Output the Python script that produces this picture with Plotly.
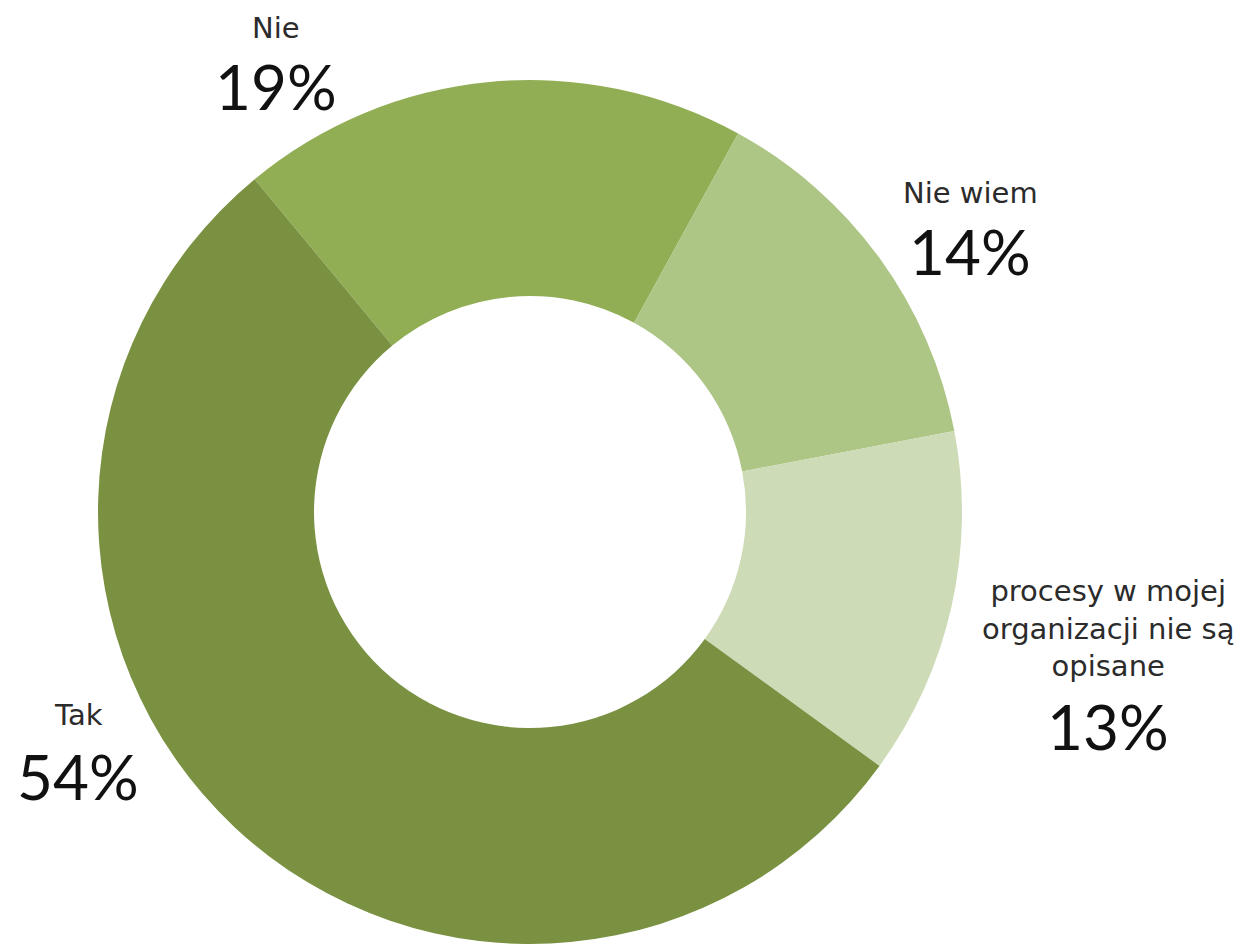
import plotly.graph_objects as go

labels = ["Nie", "Nie wiem", "procesy w mojej<br>organizacji nie są<br>opisane", "Tak"]
values = [19, 14, 13, 54]
colors = ["#92AE55", "#ADC585", "#CEDBB7", "#7A9142"]

W, H = 1245, 944
cx, cy, R = 522, 504, 432

fig = go.Figure(go.Pie(
    labels=labels,
    values=values,
    sort=False,
    direction="clockwise",
    rotation=320.4,
    hole=0.5,
    marker=dict(colors=colors, line=dict(width=0)),
    textinfo="none",
    hoverinfo="label+percent",
    domain=dict(x=[(cx - R) / W, (cx + R) / W], y=[(H - cy - R) / H, (H - cy + R) / H]),
    showlegend=False,
))

# label centres in px (x, name y, percent y), top-left origin
label_pos = [(268, 26, 90), (962, 191, 255), (1100, 626, 730), (70, 713, 780)]
name_size, pct_size = 29, 62
font = "DejaVu Sans, sans-serif"
pct_font = "Century Gothic, Lato, sans-serif"
total = sum(values)
for lab, v, (x, yn, yp) in zip(labels, values, label_pos):
    fig.add_annotation(x=x / W, y=1 - (yn - 0.2 * name_size) / H, xref="paper", yref="paper",
                       text=lab, showarrow=False, xanchor="center", yanchor="middle",
                       font=dict(family=font, size=name_size, color="#2b2b2b"))
    fig.add_annotation(x=x / W, y=1 - (yp - 0.2 * pct_size) / H, xref="paper", yref="paper",
                       text=f"{round(v / total * 100)}%", showarrow=False,
                       xanchor="center", yanchor="middle",
                       font=dict(family=pct_font, size=pct_size, color="#111111"))

fig.update_layout(width=W, height=H, margin=dict(l=0, r=0, t=0, b=0),
                  paper_bgcolor="white", plot_bgcolor="white")
fig.write_html("out.html")
